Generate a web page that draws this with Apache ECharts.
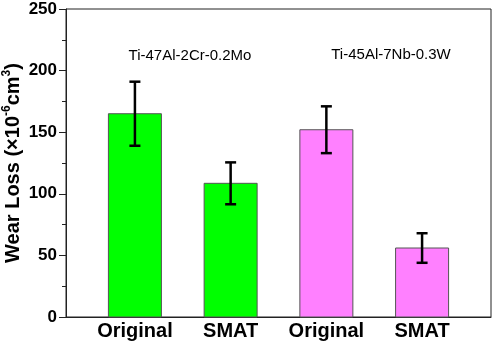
<!DOCTYPE html>
<html>
<head>
<meta charset="utf-8">
<script src="https://cdn.jsdelivr.net/npm/echarts@6/dist/echarts.min.js"></script>
<style>
  html, body { margin: 0; padding: 0; background: #fff; }
  #chart { width: 492px; height: 348px; }
</style>
</head>
<body>
<div id="chart"></div>
<script>
// data
const categories = ['Original', 'SMAT', 'Original', 'SMAT']
const positions = [1, 2, 3, 4]
const wearLoss = [165, 108.5, 152, 56]
const wearErr = [26, 17, 19, 12]
const alloyNames = ['Ti-47Al-2Cr-0.2Mo', 'Ti-45Al-7Nb-0.3W']
const yTicks = [0, 50, 100, 150, 200, 250]

// styles
const barColors = ['#00ff00', '#00ff00', '#ff80ff', '#ff80ff']
const sans = "'Liberation Sans', Arial, sans-serif"
const barPx = 53

const chart = echarts.init(document.getElementById('chart'))

const barData = positions.map((p, i) => [p, wearLoss[i]])
const errData = positions.map((p, i) => [p, wearLoss[i], wearErr[i]])

// bars drawn as custom rects so the value x axis keeps its exact range
function renderBar(params, api) {
  const top = api.coord([api.value(0), api.value(1)])
  const base = api.coord([api.value(0), 0])
  return {
    type: 'rect',
    shape: { x: top[0] - barPx / 2, y: top[1], width: barPx, height: base[1] - top[1] },
    style: { fill: barColors[params.dataIndex], stroke: '#555', lineWidth: 1 }
  }
}

// error bar: stem + two caps
function renderErr(params, api) {
  const x = api.value(0)
  const y = api.value(1)
  const e = api.value(2)
  const top = api.coord([x, y + e])
  const bot = api.coord([x, y - e])
  const half = 5.5
  const st = { stroke: '#000', lineWidth: 2.5 }
  return {
    type: 'group',
    children: [
      { type: 'line', shape: { x1: top[0], y1: top[1], x2: bot[0], y2: bot[1] }, style: st },
      { type: 'line', shape: { x1: top[0] - half, y1: top[1], x2: top[0] + half, y2: top[1] }, style: st },
      { type: 'line', shape: { x1: bot[0] - half, y1: bot[1], x2: bot[0] + half, y2: bot[1] }, style: st }
    ]
  }
}

const option = {
  animation: false,
  backgroundColor: '#fff',
  grid: {
    left: 66, right: 1, top: 9, bottom: 31,
    outerBoundsMode: 'none',
    show: true, borderColor: '#222', borderWidth: 1
  },
  xAxis: {
    type: 'value',
    min: 0.28,
    max: 4.72,
    splitLine: { show: false },
    axisLine: { show: true, onZero: false, lineStyle: { color: '#222', width: 1 } },
    axisTick: { show: false },
    axisLabel: {
      customValues: positions,
      formatter: v => categories[positions.indexOf(v)] || '',
      color: '#000',
      fontFamily: sans,
      fontWeight: 'bold',
      fontSize: 20,
      margin: 4
    }
  },
  yAxis: {
    type: 'value',
    min: yTicks[0],
    max: yTicks[yTicks.length - 1],
    interval: 50,
    splitLine: { show: false },
    axisLine: { show: true, lineStyle: { color: '#222', width: 1 } },
    axisTick: { show: true, inside: false, length: 7, lineStyle: { color: '#222' } },
    minorTick: { show: true, splitNumber: 2, length: 4, lineStyle: { color: '#222' } },
    axisLabel: {
      color: '#000',
      fontFamily: sans,
      fontWeight: 'bold',
      fontSize: 17,
      margin: 9
    },
    name: '{a|Wear Loss (×10}{s|-6}{a|cm}{s|3}{a|)}',
    nameLocation: 'middle',
    nameMoveOverlap: false,
    nameGap: 41,
    nameTextStyle: {
      rich: {
        a: { fontFamily: sans, fontWeight: 'bold', fontSize: 20, color: '#000', lineHeight: 24 },
        s: { fontFamily: sans, fontWeight: 'bold', fontSize: 12, color: '#000', verticalAlign: 'top', lineHeight: 12 }
      }
    }
  },
  graphic: [
    {
      type: 'text', x: 190, y: 56,
      style: { text: alloyNames[0], font: '15px ' + sans, fill: '#000', align: 'center', verticalAlign: 'middle' }
    },
    {
      type: 'text', x: 391, y: 55,
      style: { text: alloyNames[1], font: '15px ' + sans, fill: '#000', align: 'center', verticalAlign: 'middle' }
    }
  ],
  series: [
    {
      type: 'custom',
      renderItem: renderBar,
      data: barData,
      encode: { x: 0, y: 1 },
      z: 2
    },
    {
      type: 'custom',
      renderItem: renderErr,
      data: errData,
      encode: { x: 0, y: [1, 2] },
      z: 5
    }
  ]
}

chart.setOption(option)
</script>
</body>
</html>
